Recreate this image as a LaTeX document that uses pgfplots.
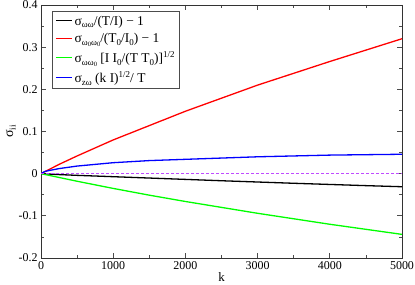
\documentclass[border=0pt]{standalone}
\usepackage{fontspec}
\setmainfont{Liberation Serif}
\usepackage{pgfplots}
\pgfplotsset{compat=1.18}
\newcommand{\sub}[1]{\raisebox{-0.4ex}{\fontsize{9}{9}\selectfont #1}}
\newcommand{\ssub}[1]{\raisebox{-0.3ex}{\fontsize{6.5}{6.5}\selectfont #1}}
\newcommand{\super}[1]{\raisebox{0.9ex}{\fontsize{9}{9}\selectfont #1}}
\definecolor{dashv}{rgb}{0.75,0.3,1.0}
\begin{document}
\begin{tikzpicture}
\begin{axis}[
  scale only axis, width=361bp, height=253bp,
  xmin=0, xmax=5000, ymin=-0.2, ymax=0.4,
  xtick={0,1000,...,5000}, ytick={-0.2,-0.1,0,0.1,0.2,0.3,0.4},
  minor xtick={500,1500,...,4500}, minor ytick={-0.15,-0.05,0.05,0.15,0.25,0.35},
  tick align=inside, major tick length=5bp, minor tick length=3bp,
  xticklabel style={/pgf/number format/.cd, 1000 sep={}, fixed},
  yticklabel style={/pgf/number format/.cd, fixed, precision=1},
  /pgf/number format/assume math mode=true,
  ticklabel style={font=\fontsize{12}{14}\selectfont},
  scaled ticks=false,
  axis line style={line width=0.9bp, black!80},
  every tick/.style={black!70, line width=0.7bp},
  xlabel={k}, ylabel={σ\sub{ii}},
  xlabel style={font=\fontsize{13}{15}\selectfont, yshift=4bp},
  ylabel style={font=\fontsize{14}{15}\selectfont, yshift=-4bp},
  legend style={at={(0.03,0.975)}, anchor=north west, draw=black!70, line width=0.8bp,
    font=\fontsize{13.5}{15}\selectfont, row sep=3bp, inner xsep=3bp, inner ysep=2bp},
  legend cell align=left,
  legend image code/.code={\draw[#1, line width=1.5bp] (0bp,0.5bp) -- (16bp,0.5bp);},
]
\addplot[black, line width=1.3bp] coordinates {(0,0) (250,-0.0022) (500,-0.004) (1000,-0.0072) (1500,-0.0104) (2000,-0.0136) (2500,-0.0168) (3000,-0.0198) (3500,-0.0228) (4000,-0.0256) (4500,-0.0284) (5000,-0.031)};
\addlegendentry{σ\sub{ωω}/(T/I) − 1}
\addplot[red, line width=1.3bp] coordinates {(0,0) (250,0.022) (500,0.042) (1000,0.08) (1500,0.114) (2000,0.148) (2500,0.179) (3000,0.21) (3500,0.238) (4000,0.266) (4500,0.293) (5000,0.32)};
\addlegendentry{σ\sub{ω\ssub{0}ω\ssub{0}}/(T\sub{0}/I\sub{0}) − 1}
\addplot[green, line width=1.3bp] coordinates {(0,0) (250,-0.009) (500,-0.018) (1000,-0.035) (1500,-0.051) (2000,-0.066) (2500,-0.08) (3000,-0.094) (3500,-0.107) (4000,-0.12) (4500,-0.132) (5000,-0.144)};
\addlegendentry{σ\sub{ωω\ssub{0}} [I I\sub{0}/(T T\sub{0})]\super{1/2}}
\addplot[blue, line width=1.3bp] coordinates {(0,0) (50,0.005) (100,0.007) (250,0.012) (500,0.018) (1000,0.026) (1500,0.031) (2000,0.034) (2500,0.037) (3000,0.04) (3500,0.042) (4000,0.044) (4500,0.045) (5000,0.046)};
\addlegendentry{σ\sub{zω} (k I)\super{1/2}/ T}
\addplot[dashv, dash pattern=on 3bp off 2bp, line width=1bp, forget plot] coordinates {(0,0) (5000,0)};
\end{axis}
\path (current axis.south west) ++(-41bp,-27bp) coordinate (bl);
\path (current axis.north east) ++(13bp,5bp) coordinate (tr);
\pgfresetboundingbox
\useasboundingbox (bl) rectangle (tr);
\end{tikzpicture}
\end{document}
